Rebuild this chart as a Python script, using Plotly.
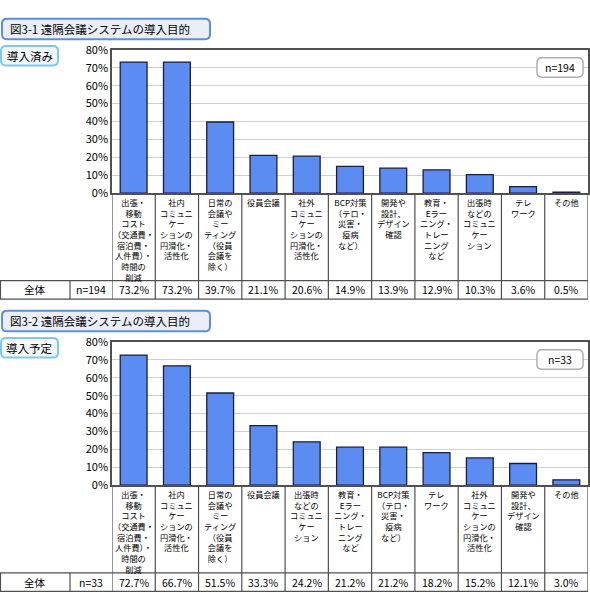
import plotly.graph_objects as go

# %%
# 図3-1 導入済み (n=194)
cats_1 = ['出張・移動コスト', '社内コミュニケーション', '日常の会議', '役員会議', '社外コミュニケーション',
          'BCP対策', '開発・設計', '教育・Eラーニング', '出張時のコミュニケーション', 'テレワーク', 'その他']
labels_1 = ['出張・<br>移動<br>コスト<br>（交通費・<br>宿泊費・<br>人件費）・<br>時間の<br>削減',
            '社内<br>コミュニ<br>ケー<br>ションの<br>円滑化・<br>活性化',
            '日常の<br>会議や<br>ミー<br>ティング<br>（役員<br>会議を<br>除く）',
            '役員会議',
            '社外<br>コミュニ<br>ケー<br>ションの<br>円滑化・<br>活性化',
            'BCP対策<br>（テロ・<br>災害・<br>疫病<br>など）',
            '開発や<br>設計、<br>デザイン<br>確認',
            '教育・<br>Eラー<br>ニング・<br>トレー<br>ニング<br>など',
            '出張時<br>などの<br>コミュニ<br>ケー<br>ション',
            'テレ<br>ワーク',
            'その他']
vals_1 = [73.2, 73.2, 39.7, 21.1, 20.6, 14.9, 13.9, 12.9, 10.3, 3.6, 0.5]
n_1 = 194

# 図3-2 導入予定 (n=33)
cats_2 = ['出張・移動コスト', '社内コミュニケーション', '日常の会議', '役員会議', '出張時のコミュニケーション',
          '教育・Eラーニング', 'BCP対策', 'テレワーク', '社外コミュニケーション', '開発・設計', 'その他']
labels_2 = [labels_1[0], labels_1[1], labels_1[2], labels_1[3], labels_1[8],
            labels_1[7], labels_1[5], labels_1[9], labels_1[4], labels_1[6], labels_1[10]]
vals_2 = [72.7, 66.7, 51.5, 33.3, 24.2, 21.2, 21.2, 18.2, 15.2, 12.1, 3.0]
n_2 = 33

titles = ['図3-1 遠隔会議システムの導入目的', '図3-2 遠隔会議システムの導入目的']
subtitles = ['導入済み', '導入予定']

# %%
W, H = 590, 609
FONT = 'Noto Sans CJK JP'
BAR_COLOR = '#5a8cf2'


def px(x):
    return x / W


def py(y):
    return 1 - y / H


def rounded_rect(x0, y0, x1, y1, r):
    pts = [('M', x0 + r, y0), ('L', x1 - r, y0), ('Q', x1, y0, x1, y0 + r),
           ('L', x1, y1 - r), ('Q', x1, y1, x1 - r, y1), ('L', x0 + r, y1),
           ('Q', x0, y1, x0, y1 - r), ('L', x0, y0 + r), ('Q', x0, y0, x0 + r, y0)]
    out = []
    for p in pts:
        if p[0] == 'Q':
            out.append(f"Q {px(p[1]):.5f},{py(p[2]):.5f} {px(p[3]):.5f},{py(p[4]):.5f}")
        else:
            out.append(f"{p[0]} {px(p[1]):.5f},{py(p[2]):.5f}")
    return ' '.join(out) + ' Z'


fig = go.Figure()
shapes = []
annotations = []

# (offset_y, cats, labels, vals, n)
panels = [(0, cats_1, labels_1, vals_1, n_1), (300, cats_2, labels_2, vals_2, n_2)]
plot_left, plot_right = 112, 588

for k, (oy, cats, labels, vals, n) in enumerate(panels):
    xa = 'x' if k == 0 else 'x2'
    ya = 'y' if k == 0 else 'y2'
    fig.add_trace(go.Bar(
        x=cats, y=vals, xaxis=xa, yaxis=ya,
        marker=dict(color=BAR_COLOR, line=dict(color='#1c1c40', width=1.3)),
        width=0.62, showlegend=False, hoverinfo='x+y'
    ))

    top, bottom = 42 + oy, 189 + oy
    lab_bottom, row_bottom = 279 + oy, 298 + oy
    axkey = 'xaxis' if k == 0 else 'xaxis2'
    aykey = 'yaxis' if k == 0 else 'yaxis2'
    fig.layout[axkey] = dict(
        domain=[px(plot_left), px(plot_right)], anchor=ya, type='category',
        categoryorder='array', categoryarray=cats,
        showticklabels=False, showgrid=False, ticks='',
        showline=True, linecolor='#505050', linewidth=1.5, mirror=True,
        range=[-0.5, len(cats) - 0.5], fixedrange=True
    )
    fig.layout[aykey] = dict(
        domain=[py(bottom), py(top)], anchor=xa, range=[0, 80], dtick=10,
        ticksuffix='%', showgrid=True, gridcolor='#cfcfcf', gridwidth=1,
        showline=True, linecolor='#505050', linewidth=1.5, mirror=True,
        tickfont=dict(family=FONT, size=11, color='#000'), ticks='',
        zeroline=False, fixedrange=True
    )

    # title boxes
    shapes.append(dict(type='path', xref='paper', yref='paper',
                       path=rounded_rect(2, 10 + oy, 210, 31 + oy, 5),
                       line=dict(color='#5b8fd8', width=2), fillcolor='#e9eef7', layer='below'))
    annotations.append(dict(x=px(8), y=py(20.5 + oy), xref='paper', yref='paper',
                            text=titles[k], showarrow=False, xanchor='left', yanchor='middle',
                            font=dict(family=FONT, size=11.5, color='#000')))
    shapes.append(dict(type='path', xref='paper', yref='paper',
                       path=rounded_rect(1, 38 + oy, 58, 58 + oy, 5),
                       line=dict(color='#80c6ef', width=2), fillcolor='#f3f8fb', layer='below'))
    annotations.append(dict(x=px(29.5), y=py(48 + oy), xref='paper', yref='paper',
                            text=subtitles[k], showarrow=False, xanchor='center', yanchor='middle',
                            font=dict(family=FONT, size=11.5, color='#000')))

    # n box
    shapes.append(dict(type='path', xref='paper', yref='paper',
                       path=rounded_rect(537, 50 + oy, 583, 70 + oy, 5),
                       line=dict(color='#b0b0b0', width=1.5), fillcolor='white'))
    annotations.append(dict(x=px(560), y=py(60 + oy), xref='paper', yref='paper',
                            text=f'n={n}', showarrow=False, xanchor='center', yanchor='middle',
                            font=dict(family=FONT, size=10.5, color='#000')))

    # category labels and value row
    for i, (c, lab, v) in enumerate(zip(cats, labels, vals)):
        annotations.append(dict(x=c, xref=xa, y=py(189.5 + oy), yref='paper', text=lab,
                                showarrow=False, xanchor='center', yanchor='top', align='center',
                                font=dict(family=FONT, size=8.2, color='#000')))
        annotations.append(dict(x=c, xref=xa, y=py((lab_bottom + row_bottom) / 2), yref='paper',
                                text=f'{v:.1f}%', showarrow=False, xanchor='center', yanchor='middle',
                                font=dict(family=FONT, size=10.5, color='#000')))

    # column dividers
    for i in range(len(cats) + 1):
        shapes.append(dict(type='line', xref=xa, yref='paper', x0=i - 0.5, x1=i - 0.5,
                           y0=py(bottom), y1=py(row_bottom), line=dict(color='#505050', width=1.2)))
    # table row
    for yy in (lab_bottom, row_bottom):
        shapes.append(dict(type='line', xref='paper', yref='paper', x0=px(0), x1=px(plot_right),
                           y0=py(yy), y1=py(yy), line=dict(color='#505050', width=1.2)))
    for xx in (0.5, 70):
        shapes.append(dict(type='line', xref='paper', yref='paper', x0=px(xx), x1=px(xx),
                           y0=py(lab_bottom), y1=py(row_bottom), line=dict(color='#505050', width=1.2)))
    annotations.append(dict(x=px(35), y=py((lab_bottom + row_bottom) / 2), xref='paper', yref='paper',
                            text='全体', showarrow=False, xanchor='center', yanchor='middle',
                            font=dict(family=FONT, size=10.5, color='#000')))
    annotations.append(dict(x=px(91), y=py((lab_bottom + row_bottom) / 2), xref='paper', yref='paper',
                            text=f'n={n}', showarrow=False, xanchor='center', yanchor='middle',
                            font=dict(family=FONT, size=10.5, color='#000')))

fig.update_layout(
    width=W, height=H,
    margin=dict(l=0, r=0, t=0, b=0),
    paper_bgcolor='white', plot_bgcolor='white',
    shapes=shapes, annotations=annotations,
    bargap=0.38,
    font=dict(family=FONT)
)

# ページ余白を消して 590x609 にぴったり収める
fig.write_html("out.html", config={'displayModeBar': False},
               post_script="document.body.style.margin='0';document.body.style.overflow='hidden';")
